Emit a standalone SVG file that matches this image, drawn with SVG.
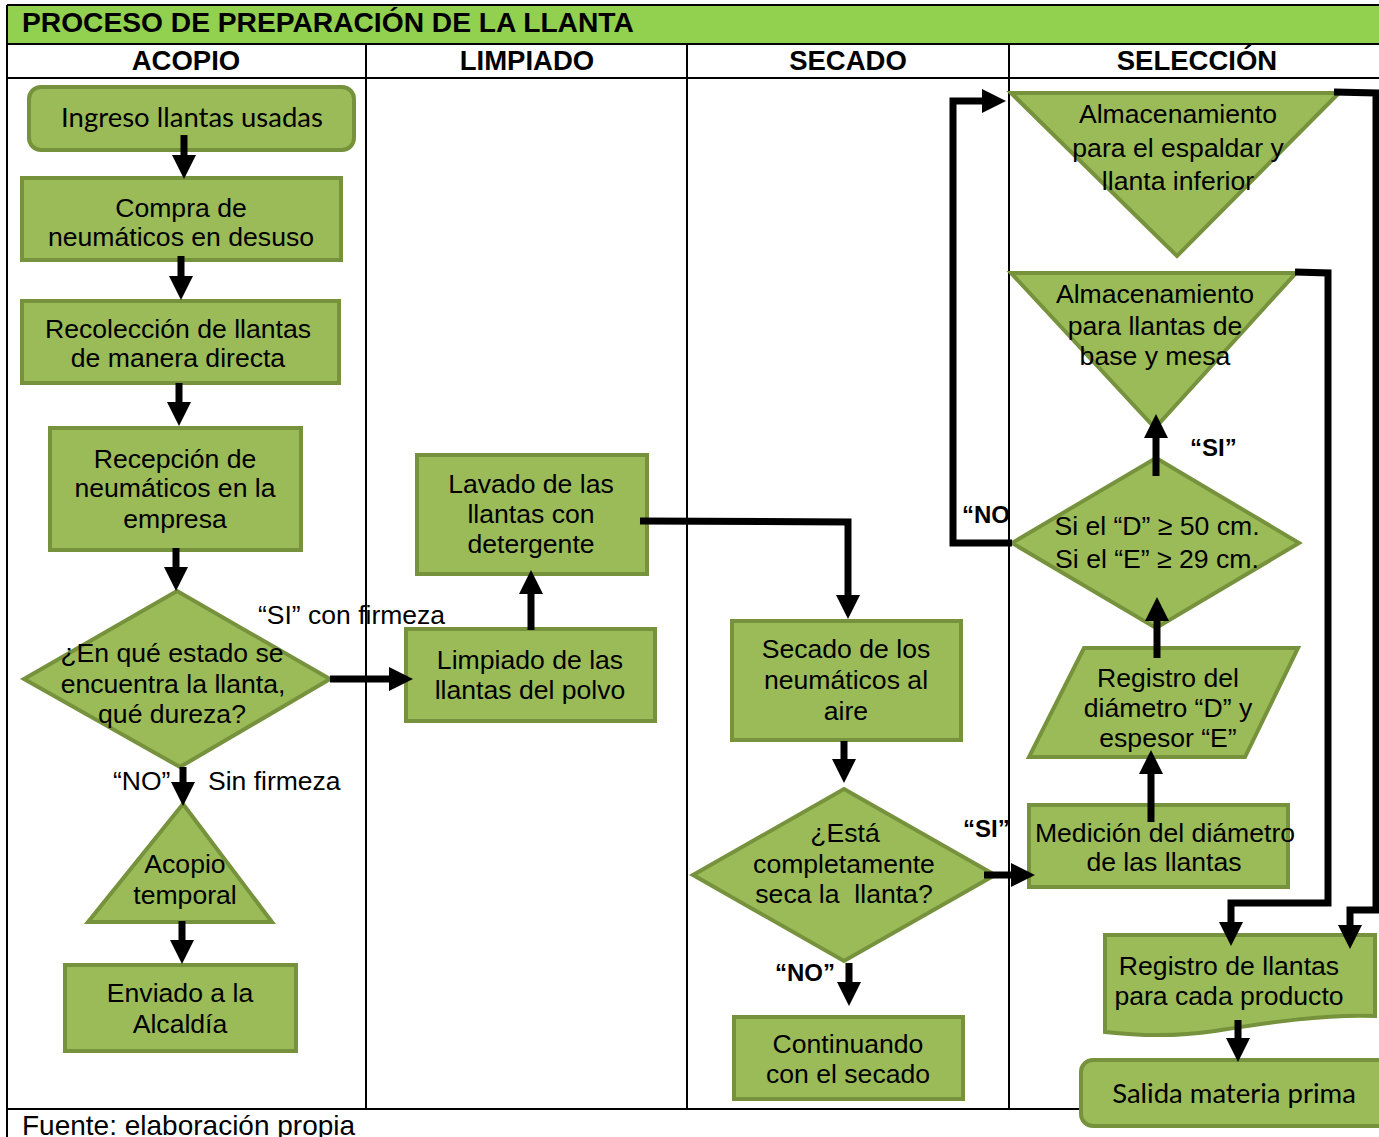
<svg xmlns="http://www.w3.org/2000/svg" width="1379" height="1137" viewBox="0 0 1379 1137">
<style>
.n{fill:#9BBB59;stroke:#76923C;stroke-width:4;}
.t{font-family:"Liberation Sans",Arial,sans-serif;font-size:26.6px;fill:#000;text-anchor:middle;}
.c{font-family:Lato,"Liberation Sans",sans-serif;font-size:27.5px;fill:#000;text-anchor:middle;}
.h{font-family:"Liberation Sans",Arial,sans-serif;font-size:27.5px;font-weight:bold;fill:#000;text-anchor:middle;}
.b{font-family:"Liberation Sans",Arial,sans-serif;font-size:24px;font-weight:bold;fill:#000;}
.l{font-family:"Liberation Sans",Arial,sans-serif;font-size:26.5px;fill:#000;}
.f{font-family:"Liberation Sans",Arial,sans-serif;font-size:28px;fill:#000;}
.g{stroke:#000;stroke-width:2;fill:none;}
.k{fill:none;stroke:#000;stroke-width:7;marker-end:url(#ah);}
</style>
<defs>
<marker id="ah" markerUnits="userSpaceOnUse" markerWidth="24" markerHeight="24" viewBox="0 0 22 22" refX="11" refY="11" orient="auto"><path d="M0,0 L22,11 L0,22 Z" fill="#000"/></marker>
</defs>
<rect width="1379" height="1137" fill="#fff"/>
<g id="table">
<rect x="7" y="5" width="1372" height="39" fill="#92D050"/>
<path class="g" d="M7,5 H1379 M7,44 H1379 M7,78 H1379 M7,5 V1137 M366,44 V1109 M687,44 V1109 M1009,44 V1109 M7,1109 H1080"/>
<text x="22" y="32" font-family="Liberation Sans,Arial,sans-serif" font-size="28.2" font-weight="bold">PROCESO DE PREPARACIÓN DE LA LLANTA</text>
<text class="h" x="186" y="70">ACOPIO</text>
<text class="h" x="527" y="70">LIMPIADO</text>
<text class="h" x="848" y="70">SECADO</text>
<text class="h" x="1197" y="70">SELECCIÓN</text>
<text class="f" x="22" y="1135">Fuente: elaboración propia</text>
</g>
<g id="n1"><rect class="n" x="29" y="87" width="325" height="63" rx="12"/><text class="c" x="192" y="127">Ingreso llantas usadas</text></g>
<g id="n2"><rect class="n" x="22" y="178" width="319" height="82"/><text class="t" x="181" y="217">Compra de</text><text class="t" x="181" y="246">neumáticos en desuso</text></g>
<g id="n3"><rect class="n" x="22" y="301" width="317" height="82"/><text class="t" x="178" y="338">Recolección de llantas</text><text class="t" x="178" y="367">de manera directa</text></g>
<g id="n4"><rect class="n" x="50" y="428" width="251" height="122"/><text class="t" x="175" y="468">Recepción de</text><text class="t" x="175" y="497">neumáticos en la</text><text class="t" x="175" y="528">empresa</text></g>
<g id="n5"><polygon class="n" points="177,591 330,679 180,767 24,679"/><text class="t" x="172" y="662">¿En qué estado se</text><text class="t" x="173" y="693">encuentra la llanta,</text><text class="t" x="172" y="723">qué dureza?</text></g>
<g id="n6"><polygon class="n" points="183,804 272,922 88,922"/><text class="t" x="185" y="873">Acopio</text><text class="t" x="185" y="904">temporal</text></g>
<g id="n7"><rect class="n" x="65" y="965" width="231" height="86"/><text class="t" x="180" y="1002">Enviado a la</text><text class="t" x="180" y="1033">Alcaldía</text></g>
<g id="n8"><rect class="n" x="417" y="455" width="230" height="119"/><text class="t" x="531" y="493">Lavado de las</text><text class="t" x="531" y="523">llantas con</text><text class="t" x="531" y="553">detergente</text></g>
<g id="n9"><rect class="n" x="406" y="629" width="249" height="92"/><text class="t" x="530" y="669">Limpiado de las</text><text class="t" x="530" y="699">llantas del polvo</text></g>
<g id="n10"><rect class="n" x="732" y="621" width="229" height="119"/><text class="t" x="846" y="658">Secado de los</text><text class="t" x="846" y="689">neumáticos al</text><text class="t" x="846" y="720">aire</text></g>
<g id="n11"><polygon class="n" points="844,789 995,875 844,961 693,875"/><text class="t" x="845" y="842">¿Está</text><text class="t" x="844" y="873">completamente</text><text class="t" x="844" y="903" xml:space="preserve">seca la  llanta?</text></g>
<g id="n12"><rect class="n" x="734" y="1017" width="229" height="82"/><text class="t" x="848" y="1053">Continuando</text><text class="t" x="848" y="1083">con el secado</text></g>
<g id="n13"><polygon class="n" points="1011,93 1339,93 1177,256"/><text class="t" x="1178" y="123">Almacenamiento</text><text class="t" x="1178" y="157">para el espaldar y</text><text class="t" x="1178" y="190">llanta inferior</text></g>
<g id="n14"><polygon class="n" points="1011,273 1296,273 1155,428"/><text class="t" x="1155" y="303">Almacenamiento</text><text class="t" x="1155" y="335">para llantas de</text><text class="t" x="1155" y="365">base y mesa</text></g>
<g id="n15"><polygon class="n" points="1156,458 1299,543 1156,628 1012,543"/><text class="t" x="1157" y="535">Si el “D” ≥ 50 cm.</text><text class="t" x="1157" y="568">Si el “E” ≥ 29 cm.</text></g>
<g id="n16"><polygon class="n" points="1084,648 1298,648 1245,757 1029,757"/><text class="t" x="1168" y="687">Registro del</text><text class="t" x="1168" y="717">diámetro “D” y</text><text class="t" x="1168" y="747">espesor “E”</text></g>
<g id="n17"><rect class="n" x="1029" y="805" width="259" height="82"/><text class="t" x="1165" y="842">Medición del diámetro</text><text class="t" x="1164" y="871">de las llantas</text></g>
<g id="n18"><path class="n" d="M1105,935 H1375 V1016 C1320,1014 1260,1024 1215,1031 C1175,1037 1140,1036 1105,1032 Z"/><text class="t" x="1229" y="975">Registro de llantas</text><text class="t" x="1229" y="1005">para cada producto</text></g>
<g id="n19"><rect class="n" x="1081" y="1060" width="320" height="66" rx="12"/><text class="c" x="1234" y="1103">Salida materia prima</text></g>
<g id="labels">
<text class="l" x="258" y="624">“SI” con firmeza</text>
<text class="l" x="113" y="790">“NO”</text>
<text class="l" x="208" y="790">Sin firmeza</text>
<text class="b" x="963" y="837">“SI”</text>
<text class="b" x="775" y="981">“NO”</text>
<text class="b" x="1190" y="456">“SI”</text>
<text class="b" x="962" y="523">“NO</text>
</g>
<g id="connectors">
<path class="k" d="M184,135 V167"/>
<path class="k" d="M181,256 V288"/>
<path class="k" d="M179,383 V414"/>
<path class="k" d="M176,548 V579"/>
<path class="k" d="M330,679 H401"/>
<path class="k" d="M183,767 V794"/>
<path class="k" d="M182,921 V952"/>
<path class="k" d="M531,630 V582"/>
<path class="k" d="M640,521 L848,522 V607"/>
<path class="k" d="M844,741 V771"/>
<path class="k" d="M849,963 V994"/>
<path class="k" d="M984,875 H1023"/>
<path class="k" d="M1151,822 V762"/>
<path class="k" d="M1157,658 V609"/>
<path class="k" d="M1156,476 V426"/>
<path class="k" d="M1012,543 H953 V101 H994"/>
<path class="k" d="M1334,92 L1376,93 V910 H1350 V937"/>
<path class="k" d="M1295,272 L1328,273 V903 H1231 V934"/>
<path class="k" d="M1238,1020 V1050"/>
</g>
</svg>
